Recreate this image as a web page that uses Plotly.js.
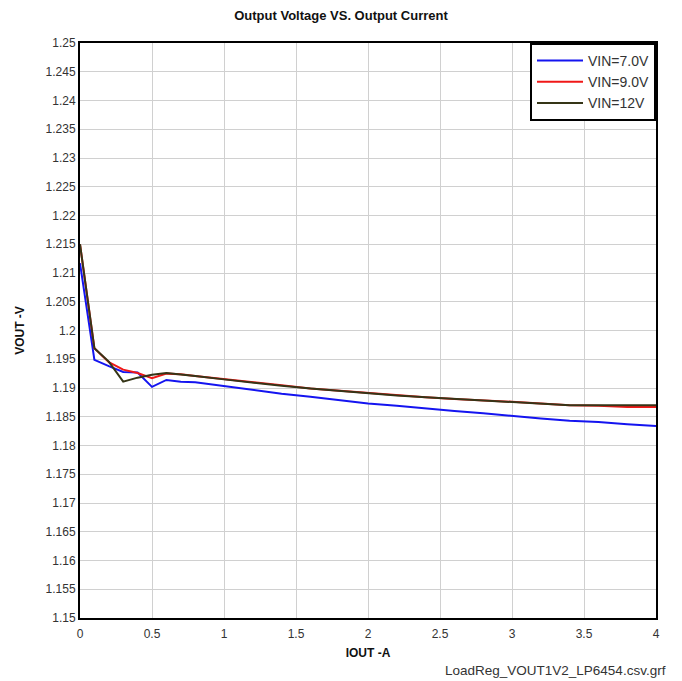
<!DOCTYPE html>
<html>
<head>
<meta charset="utf-8">
<script src="https://cdn.plot.ly/plotly-3.0.1.min.js"></script>
<style>html,body{margin:0;padding:0;background:#fff;}#chart{width:682px;height:681px;}</style>
</head>
<body>
<div id="chart"></div>
<script>
const iout = [0, 0.1, 0.2, 0.3, 0.4, 0.5, 0.6, 0.7, 0.8, 1.0, 1.2, 1.4, 1.6, 1.8, 2.0, 2.2, 2.4, 2.6, 2.8, 3.0, 3.2, 3.4, 3.6, 3.8, 4.0];
const vin7 = [1.2117, 1.1949, 1.1938, 1.1928, 1.1927, 1.1902, 1.1914, 1.1911, 1.1910, 1.1903, 1.1896, 1.1890, 1.1885, 1.1879, 1.1873, 1.1869, 1.1864, 1.1860, 1.1856, 1.1851, 1.1847, 1.1843, 1.1841, 1.1837, 1.1834];
const vin9 = [1.2150, 1.1969, 1.1945, 1.1932, 1.1926, 1.1917, 1.1925, 1.1924, 1.1921, 1.1916, 1.1910, 1.1905, 1.1899, 1.1895, 1.1892, 1.1887, 1.1884, 1.1881, 1.1879, 1.1876, 1.1873, 1.1870, 1.1869, 1.1867, 1.1867];
const vin12 = [1.2150, 1.1969, 1.1946, 1.1911, 1.1918, 1.1923, 1.1926, 1.1924, 1.1921, 1.1915, 1.1909, 1.1904, 1.1899, 1.1895, 1.1890, 1.1887, 1.1884, 1.1881, 1.1878, 1.1875, 1.1872, 1.1870, 1.1870, 1.1870, 1.1870];
const seriesNames = ["VIN=7.0V", "VIN=9.0V", "VIN=12V"];
const yTicks = [1.15, 1.155, 1.16, 1.165, 1.17, 1.175, 1.18, 1.185, 1.19, 1.195, 1.2, 1.205, 1.21, 1.215, 1.22, 1.225, 1.23, 1.235, 1.24, 1.245, 1.25];
const xTicks = [0, 0.5, 1, 1.5, 2, 2.5, 3, 3.5, 4];

const colors = ["#1414f0", "#f01818", "#353517"];
const data = [vin7, vin9, vin12].map((v, i) => ({
  x: iout, y: v, type: "scatter", mode: "lines", name: seriesNames[i],
  line: {color: colors[i], width: 2}
}));

const layout = {
  width: 682, height: 681,
  margin: {l: 80, r: 26, t: 43, b: 63},
  paper_bgcolor: "#fff", plot_bgcolor: "#fff",
  font: {family: "Arial, Liberation Sans, sans-serif", color: "#333", size: 12},
  title: {text: "<b>Output Voltage VS. Output Current</b>", x: 0.5, xanchor: "center", y: 0.977, yanchor: "middle", font: {size: 13, color: "#111"}},
  xaxis: {
    range: [0, 4], tickvals: xTicks, ticktext: xTicks.map(String),
    showgrid: true, gridcolor: "#d0d0d0", gridwidth: 1,
    showline: true, linecolor: "#000", linewidth: 2, mirror: true,
    zeroline: false, ticks: "", tickfont: {size: 12, color: "#333"},
    ticklabelstandoff: 4,
    title: {text: "<b>IOUT -A</b>", font: {size: 12, color: "#111"}, standoff: 8}
  },
  yaxis: {
    range: [1.15, 1.25], tickvals: yTicks, ticktext: yTicks.map(String),
    showgrid: true, gridcolor: "#d0d0d0", gridwidth: 1,
    showline: true, linecolor: "#000", linewidth: 2, mirror: true,
    zeroline: false, ticks: "", tickfont: {size: 12, color: "#333"},
    title: {text: "<b>VOUT -V</b>", font: {size: 12, color: "#111"}, standoff: 18}
  },
  legend: {
    x: 1, xanchor: "right", y: 1, yanchor: "top",
    bgcolor: "#fff", bordercolor: "#000", borderwidth: 2,
    font: {size: 14, color: "#333"}, tracegroupgap: 0, itemwidth: 46
  },
  showlegend: true,
  annotations: [{
    text: "LoadReg_VOUT1V2_LP6454.csv.grf", xref: "paper", yref: "paper",
    x: 1.02, xanchor: "right", y: -0.092, yanchor: "middle", showarrow: false,
    font: {size: 13.5, color: "#333"}
  }]
};

Plotly.newPlot("chart", data, layout, {displayModeBar: false, staticPlot: true});
</script>
</body>
</html>
